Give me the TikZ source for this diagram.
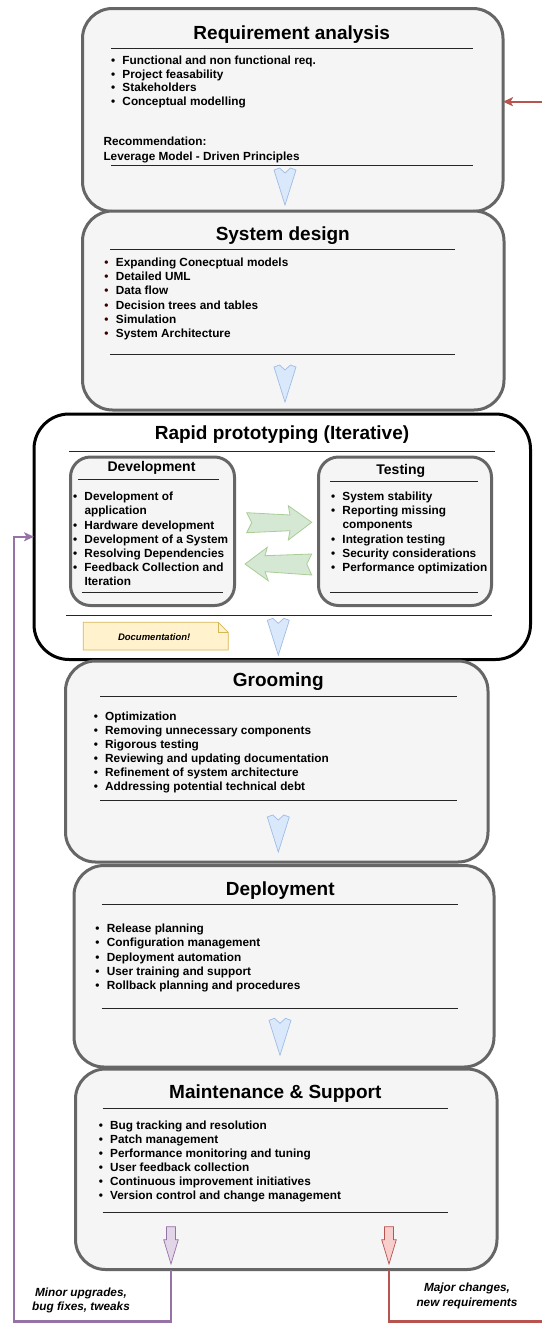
\documentclass[tikz,border=0pt]{standalone}
\usepackage{fontspec}
\setmainfont{Liberation Sans}
\usetikzlibrary{arrows.meta}
\definecolor{boxgray}{HTML}{666666}
\definecolor{boxfill}{HTML}{F5F5F5}
\definecolor{chevfill}{HTML}{DAE8FC}
\definecolor{chevdraw}{HTML}{9FBCE4}
\definecolor{grfill}{HTML}{D5E8D4}
\definecolor{grdraw}{HTML}{A9CD95}
\definecolor{notefill}{HTML}{FFF2CC}
\definecolor{notedraw}{HTML}{D6B656}
\definecolor{purpl}{HTML}{9673A6}
\definecolor{purpfill}{HTML}{E1D5E7}
\definecolor{redl}{HTML}{B85450}
\definecolor{redfill}{HTML}{F8CECC}
\definecolor{bulred}{HTML}{3A0000}
\newcommand\itm{\llap{\textbullet\hspace{7.3pt}}}
\newcommand\itmr{\llap{\textcolor{bulred}{\textbullet}\hspace{7.3pt}}}
\newcommand\chev[2]{\draw[chevst, shift={(#1,#2)}] (-11,2) -- (-5.5,0) -- (0,5) -- (5.5,0) -- (11,2) -- (0,37) -- cycle;}
\newcommand\smallarr[3]{\draw[#3, shift={(#1,#2)}] (-4.5,0) -- (4.5,0) -- (4.5,13) -- (7.3,13) -- (0,37.3) -- (-7.3,13) -- (-4.5,13) -- cycle;}
\begin{document}
\begin{tikzpicture}[x=1pt,y=-1pt,
  stage/.style={draw=boxgray, fill=boxfill, line width=3pt, rounded corners=30pt, inner sep=0pt, outer sep=0pt, anchor=north west},
  inner/.style={stage, rounded corners=20pt},
  outerblk/.style={stage, draw=black, fill=white, rounded corners=35pt},
  ttl/.style={anchor=base, inner sep=0pt, font=\fontsize{19}{23}\selectfont\bfseries},
  subttl/.style={anchor=base, inner sep=0pt, font=\fontsize{14}{17}\selectfont\bfseries},
  lst/.style={anchor=base west, align=left, inner sep=0pt, font=\fontsize{11.8}{14.15}\selectfont\bfseries},
  sep/.style={draw=black!85, line width=1pt},
  chevst/.style={draw=chevdraw, fill=chevfill, line width=0.7pt, line join=miter},
  grarr/.style={draw=grdraw, fill=grfill, line width=0.8pt},
  fb/.style={line width=2.4pt, -{Stealth[length=10pt,width=9pt,inset=2.5pt]}},
  lbl/.style={anchor=base, align=center, inner sep=0pt, font=\fontsize{11.8}{14.5}\selectfont\bfseries\itshape}
]
\useasboundingbox (0,0) rectangle (541,1323);
\fill[white] (0,0) rectangle (541,1323);

% Requirement analysis (list anchors are at the baseline of the LAST line)
\node[stage, minimum width=420.5, minimum height=203] (req) at (82.5,8.5) {};
\node[ttl] (reqT) at (291.7,39) {Requirement analysis};
\draw[sep] (111,48.3) -- (472.7,48.3);
\node[lst, font=\fontsize{11.8}{13.8}\selectfont\bfseries] (reqL) at (122.3,105.7) {\itm Functional and non functional req.\\\itm Project feasability\\\itm Stakeholders\\\itm Conceptual modelling};
\node[lst, font=\fontsize{11.8}{14.3}\selectfont\bfseries] (reqR) at (103.3,160) {Recommendation:\\Leverage Model - Driven Principles};
\draw[sep] (111,165.7) -- (472.7,165.7);
\chev{285}{168}

% System design
\node[stage, minimum width=421.5, minimum height=199] (sys) at (82.5,211) {};
\node[ttl] (sysT) at (282.8,240) {System design};
\draw[sep] (110,249.3) -- (455,249.3);
\node[lst] (sysL) at (115.7,337.4) {\itmr Expanding Conecptual models\\\itmr Detailed UML\\\itmr Data flow\\\itmr Decision trees and tables\\\itmr Simulation\\\itmr System Architecture};
\draw[sep] (110,354.3) -- (455,354.3);
\chev{285}{365}

% Rapid prototyping
\node[outerblk, minimum width=496.5, minimum height=245.5] (rapid) at (34,414) {};
\node[ttl] (rapT) at (282,439.3) {Rapid prototyping (Iterative)};
\draw[sep] (69.3,451) -- (495,451);
\node[inner, minimum width=164, minimum height=148.5] (dev) at (70.5,457) {};
\node[subttl] (devT) at (151.5,471.7) {Development};
\draw[sep] (78.3,479.3) -- (219.3,479.3);
\node[lst] (devL) at (84.3,585.6) {\itm Development of\\application\\\itm Hardware development\\\itm Development of a System\\\itm Resolving Dependencies\\\itm Feedback Collection and\\Iteration};
\draw[sep] (81.7,592.7) -- (222.7,592.7);
\node[inner, minimum width=173, minimum height=148.5] (test) at (318.5,457) {};
\node[subttl] (testT) at (400.8,474) {Testing};
\draw[sep] (330,481) -- (478.3,481);
\node[lst] (testL) at (342.3,571.4) {\itm System stability\\\itm Reporting missing\\components\\\itm Integration testing\\\itm Security considerations\\\itm Performance optimization};
\draw[sep] (330,592.7) -- (478.3,592.7);
\draw[grarr] (246.7,512.7) -- (290,515) -- (288.3,505.7) -- (311.7,522.3) -- (288.3,540) -- (290,530.7) -- (246.7,532.7) -- (251.7,522.7) -- cycle;
\draw[grarr] (311.7,554) -- (265,555.7) -- (267.3,547.3) -- (245,564) -- (268.3,580.7) -- (265,571.7) -- (311.7,575) -- (306.7,564) -- cycle;
\draw[sep] (66,615) -- (491.7,615);
\draw[draw=notedraw, fill=notefill, line width=0.7pt] (83.3,622.3) -- (218.3,622.3) -- (228.3,632.3) -- (228.3,650) -- (83.3,650) -- cycle;
\draw[draw=notedraw, line width=0.7pt] (218.3,622.3) -- (218.3,632.3) -- (228.3,632.3);
\node[anchor=base, inner sep=0pt, font=\fontsize{9.5}{11}\selectfont\bfseries\itshape] (doc) at (154.2,640) {Documentation!};
\chev{278.3}{618.3}

% Grooming
\node[stage, minimum width=422.5, minimum height=201] (groom) at (65.5,661) {};
\node[ttl] (groT) at (278.3,686.7) {Grooming};
\draw[sep] (100,696.7) -- (456.7,696.7);
\node[lst] (groL) at (105,790.75) {\itm Optimization\\\itm Removing unnecessary components\\\itm Rigorous testing\\\itm Reviewing and updating documentation\\\itm Refinement of system architecture\\\itm Addressing potential technical debt};
\draw[sep] (100,800.7) -- (456.7,800.7);
\chev{278.3}{815}

% Deployment
\node[stage, minimum width=420, minimum height=201.5] (deploy) at (74,865.5) {};
\node[ttl] (depT) at (280.3,895) {Deployment};
\draw[sep] (101.7,904.3) -- (458.3,904.3);
\node[lst] (depL) at (106.7,989.3) {\itm Release planning\\\itm Configuration management\\\itm Deployment automation\\\itm User training and support\\\itm Rollback planning and procedures};
\draw[sep] (101.7,1008.7) -- (458.3,1008.7);
\chev{280}{1018.3}

% Maintenance
\node[stage, minimum width=421.5, minimum height=200.5] (maint) at (75.5,1069) {};
\node[ttl] (maiT) at (275.3,1098.3) {Maintenance \& Support};
\draw[sep] (102.7,1108.3) -- (447.7,1108.3);
\node[lst] (maiL) at (110,1199.75) {\itm Bug tracking and resolution\\\itm Patch management\\\itm Performance monitoring and tuning\\\itm User feedback collection\\\itm Continuous improvement initiatives\\\itm Version control and change management};
\draw[sep] (102.7,1212.7) -- (447.7,1212.7);
\smallarr{171}{1226.7}{draw=purpl, fill=purpfill, line width=0.7pt}
\smallarr{389}{1226.7}{draw=redl, fill=redfill, line width=0.7pt}

% Feedback loops
\coordinate (pa) at (171,1264);
\coordinate (ra) at (389,1264);
\coordinate (lowL) at (14,1321.5);
\coordinate (lowR) at (543,1321.5);
\draw[fb, draw=purpl] (maint.south -| pa) |- (lowL) |- (rapid.west);
\draw[fb, draw=redl] (maint.south -| ra) |- (lowR) |- ([yshift=8.3pt]req.east);
\node[lbl] (minor) at (81,1310.5) {Minor upgrades,\\bug fixes, tweaks};
\node[lbl] (major) at (467,1306.2) {Major changes,\\new requirements};
\end{tikzpicture}
\end{document}
